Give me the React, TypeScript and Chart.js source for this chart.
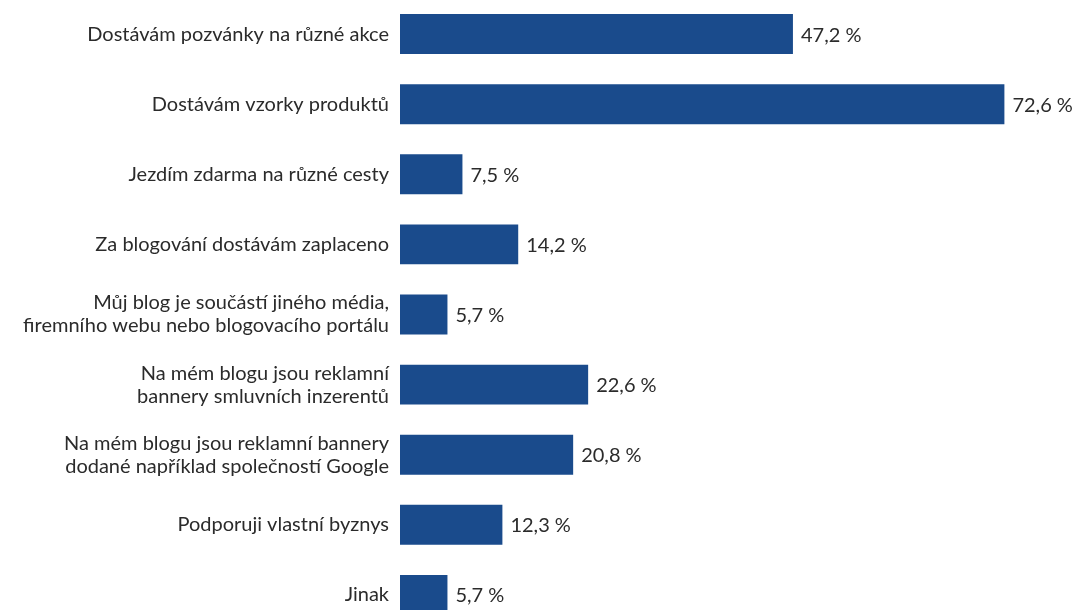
import React, { useEffect, useRef } from "react";
import { Chart, registerables } from "chart.js";

Chart.register(...registerables);

const categories: (string | string[])[] = [
  "Dostávám pozvánky na různé akce",
  "Dostávám vzorky produktů",
  "Jezdím zdarma na různé cesty",
  "Za blogování dostávám zaplaceno",
  ["Můj blog je součástí jiného média,", "firemního webu nebo blogovacího portálu"],
  ["Na mém blogu jsou reklamní", "bannery smluvních inzerentů"],
  ["Na mém blogu jsou reklamní bannery", "dodané například společností Google"],
  "Podporuji vlastní byznys",
  "Jinak",
];

const values: number[] = [47.2, 72.6, 7.5, 14.2, 5.7, 22.6, 20.8, 12.3, 5.7];

const BAR_COLOR = "#1A4B8C";
const TEXT_COLOR = "#2B2B2B";
const FONT = "Lato, 'Open Sans', sans-serif";

const valueLabels = {
  id: "valueLabels",
  afterDatasetsDraw(chart: any) {
    const ctx = chart.ctx;
    const meta = chart.getDatasetMeta(0);
    ctx.save();
    ctx.font = `20px ${FONT}`;
    ctx.fillStyle = TEXT_COLOR;
    ctx.textAlign = "left";
    ctx.textBaseline = "middle";
    meta.data.forEach((bar: any, i: number) => {
      const v = values[i];
      const txt = v.toFixed(1).replace(".", ",") + " %";
      ctx.fillText(txt, bar.x + 8, bar.y + 1);
    });
    ctx.restore();
  },
};

export default function App() {
  const ref = useRef<HTMLCanvasElement | null>(null);
  useEffect(() => {
    if (!ref.current) return;
    const chart = new Chart(ref.current, {
      type: "bar",
      data: {
        labels: categories,
        datasets: [
          {
            data: values,
            backgroundColor: BAR_COLOR,
            borderWidth: 0,
            barPercentage: 0.57,
            categoryPercentage: 1,
          },
        ],
      },
      options: {
        indexAxis: "y",
        animation: false,
        responsive: false,
        maintainAspectRatio: false,
        devicePixelRatio: 1,
        layout: { padding: { left: 0, right: 12, top: 0, bottom: 0 } },
        plugins: {
          legend: { display: false },
          tooltip: { enabled: false },
        },
        scales: {
          x: {
            display: false,
            min: 0,
            max: 80,
          },
          y: {
            afterFit(scale: any) {
              scale.width = 400;
              scale.paddingTop = 0;
              scale.paddingBottom = 0;
            },
            grid: { display: false, drawTicks: false },
            border: { display: false },
            ticks: {
              color: TEXT_COLOR,
              font: { size: 20, family: FONT, lineHeight: 1.15 },
              padding: 11,
              autoSkip: false,
            },
          },
        },
      },
      plugins: [valueLabels],
    });
    return () => chart.destroy();
  }, []);
  return (
    <div style={{ position: "fixed", left: 0, top: -1, width: 1078, height: 631, background: "#fff" }}>
      <canvas ref={ref} width={1078} height={631} style={{ display: "block", width: 1078, height: 631 }} />
    </div>
  );
}
